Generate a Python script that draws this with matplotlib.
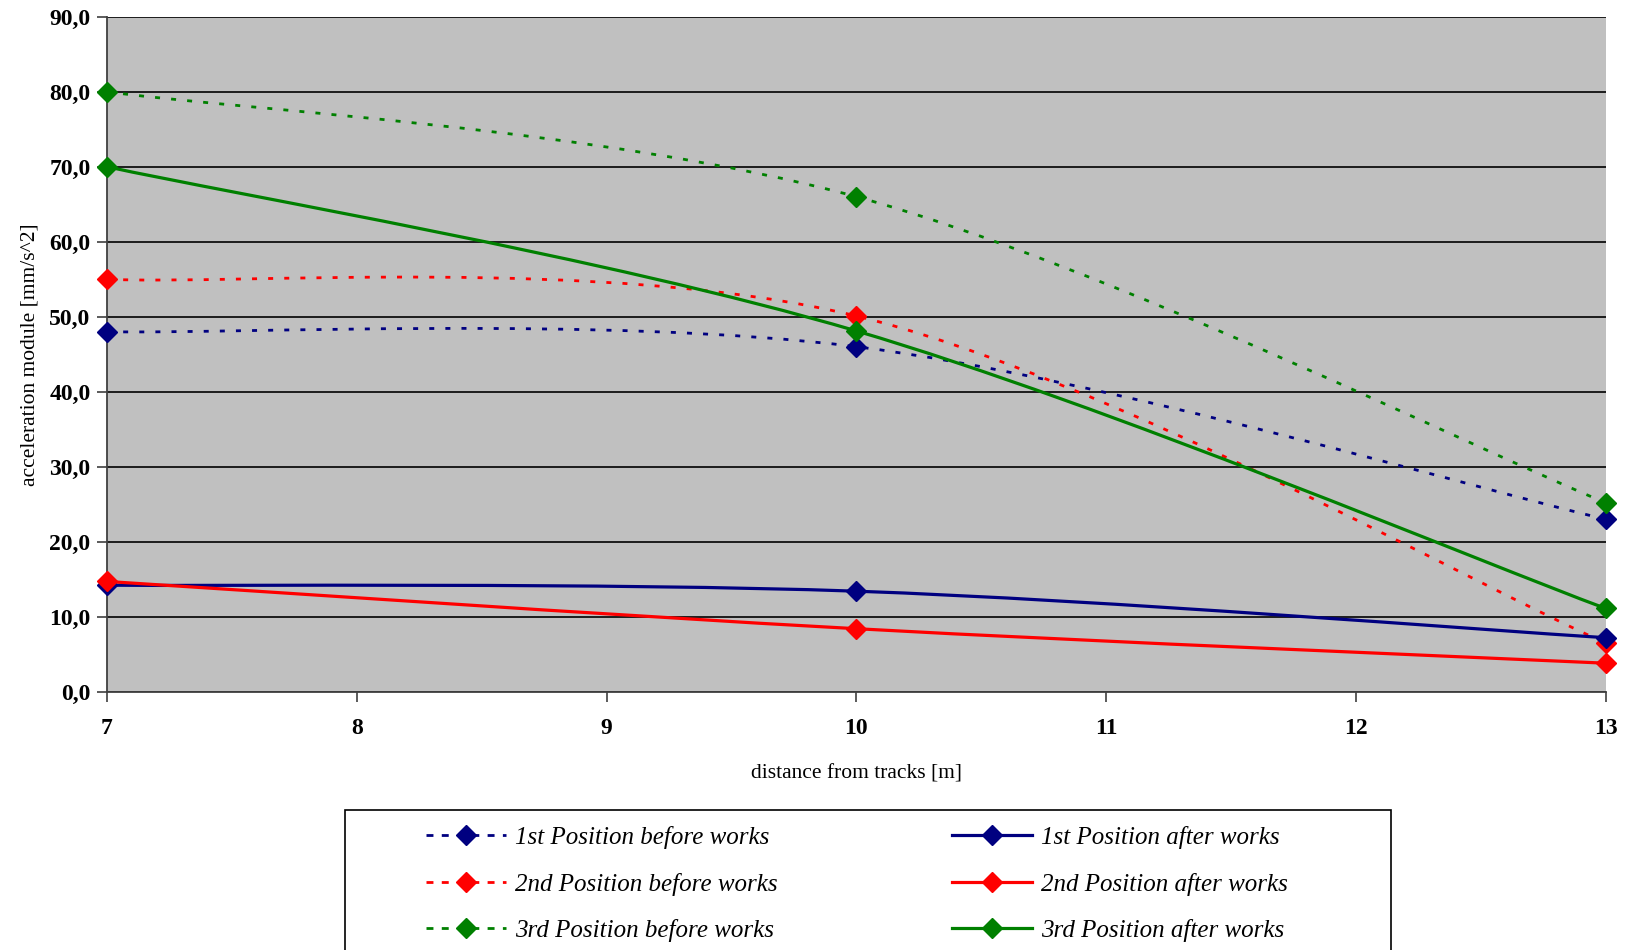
import numpy as np
import matplotlib
matplotlib.use("Agg")
import matplotlib.pyplot as plt
from matplotlib.path import Path
from matplotlib.patches import PathPatch, Rectangle
from matplotlib.lines import Line2D

# distance from tracks [m]
distance = [7, 10, 13]

# acceleration module [mm/s^2]
pos1_before = [48.0, 46.0, 23.0]
pos1_after = [14.2, 13.4, 7.2]
pos2_before = [55.0, 50.1, 6.5]
pos2_after = [14.7, 8.4, 3.8]
pos3_before = [80.0, 66.0, 25.2]
pos3_after = [70.0, 48.1, 11.1]

labels_before = ["1st Position before works", "2nd Position before works", "3rd Position before works"]
labels_after = ["1st Position after works", "2nd Position after works", "3rd Position after works"]

NAVY = "#000080"
RED = "#ff0000"
GREEN = "#008000"

plt.rcParams['font.family'] = ['Liberation Serif', 'DejaVu Serif']

W, H = 1627, 950


def smooth_path(x, y):
    # excel-like smoothed line: cubic bezier through the points
    pts = np.column_stack([x, y]).astype(float)
    n = len(pts)
    verts = [pts[0]]
    codes = [Path.MOVETO]
    for i in range(n - 1):
        p_prev = pts[i - 1] if i > 0 else pts[i]
        p_next2 = pts[i + 2] if i + 2 < n else pts[i + 1]
        c1 = pts[i] + (pts[i + 1] - p_prev) / 6.0
        c2 = pts[i + 1] - (p_next2 - pts[i]) / 6.0
        verts += [c1, c2, pts[i + 1]]
        codes += [Path.CURVE4] * 3
    return Path(verts, codes)


fig = plt.figure(figsize=(W / 100, H / 100), dpi=100)
ax = fig.add_axes([0.0658, 0.2719, 0.9211, 0.7105])
ax.set_facecolor("#c0c0c0")

before = [(pos1_before, NAVY), (pos2_before, RED), (pos3_before, GREEN)]
after = [(pos1_after, NAVY), (pos2_after, RED), (pos3_after, GREEN)]

h_before, h_after = [], []
for group, dotted, hl in [(before, True, h_before), (after, False, h_after)]:
    lw = 2.0 if dotted else 2.3
    for vals, col in group:
        patch = PathPatch(smooth_path(distance, vals), facecolor="none", edgecolor=col,
                          lw=lw, zorder=3, clip_on=False)
        if dotted:
            patch.set_linestyle((0, (1.8, 4.0)))
        ax.add_patch(patch)
        ax.plot(distance, vals, ls="none", marker="D", ms=10, color=col, zorder=4, clip_on=False)
        hl.append(Line2D([], [], color=col, lw=lw, marker="D", ms=10,
                         ls=(0, (2.5, 3.0)) if dotted else "-"))

yt = np.arange(0, 91, 10)
ax.set_xlim(7, 13)
ax.set_ylim(0, 90)
ax.set_yticks(yt)
ax.set_yticklabels([("%.1f" % v).replace(".", ",") for v in yt])
ax.set_xticks(range(7, 14))
ax.grid(axis="y", color="black", lw=1.2)
ax.set_axisbelow(True)
for s in ["top", "right"]:
    ax.spines[s].set_visible(False)
for s in ["left", "bottom"]:
    ax.spines[s].set_color("#404040")
    ax.spines[s].set_linewidth(1.3)
ax.tick_params(axis="y", length=7, width=1.2, color="#404040", labelsize=17, pad=5)
ax.tick_params(axis="x", length=7, width=1.2, color="#404040", labelsize=17, pad=12)
for t in ax.get_xticklabels() + ax.get_yticklabels():
    t.set_fontweight("bold")

ax.set_xlabel("distance from tracks [m]", fontsize=15.5, labelpad=18)
ax.set_ylabel("acceleration module [mm/s^2]", fontsize=15.5, labelpad=7)

# legend box, runs off the bottom of the picture
fig.add_artist(Rectangle((345 / W, 1 - 990 / H), 1046 / W, 180 / H, transform=fig.transFigure,
                         facecolor="white", edgecolor="black", lw=1.2, zorder=1))

legend_kw = dict(loc="upper left", prop={"style": "italic", "size": 18},
                 handlelength=3.2, handletextpad=0.36, labelspacing=0.94,
                 borderpad=0, borderaxespad=0, frameon=False)
fig.legend(h_before, labels_before, bbox_to_anchor=(426 / W, 1 - 826 / H), **legend_kw)
fig.legend(h_after, labels_after, bbox_to_anchor=(952 / W, 1 - 826 / H), **legend_kw)

fig.savefig("out.png", dpi=100)
